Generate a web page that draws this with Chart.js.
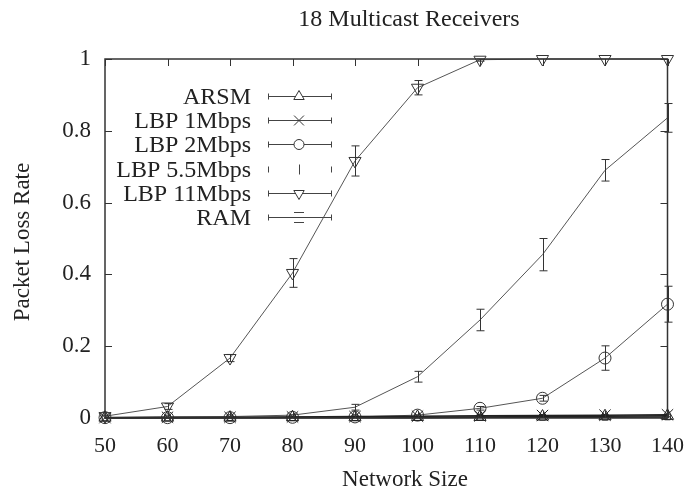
<!DOCTYPE html>
<html>
<head>
<meta charset="utf-8">
<title>18 Multicast Receivers</title>
<script src="https://cdn.jsdelivr.net/npm/chart.js@4.4.1/dist/chart.umd.min.js"></script>
<style>
  html, body { margin: 0; padding: 0; background: #fff; }
</style>
</head>
<body>
<canvas id="loss-chart" width="699" height="492"></canvas>
<script>
const networkSizes = [50, 60, 70, 80, 90, 100, 110, 120, 130, 140];
const xTickValues = [50, 60, 70, 80, 90, 100, 110, 120, 130, 140];
const yTickValues = [0, 0.2, 0.4, 0.6, 0.8, 1];

const chartTitle = "18 Multicast Receivers";
const xTitle = "Network Size";
const yTitle = "Packet Loss Rate";
const seriesNames = ["ARSM", "LBP 1Mbps", "LBP 2Mbps", "LBP 5.5Mbps", "LBP 11Mbps", "RAM"];

const arsmLoss = [0.001, 0.001, 0.001, 0.002, 0.002, 0.003, 0.003, 0.004, 0.005, 0.006];
const lbp1Loss = [0.001, 0.002, 0.002, 0.003, 0.004, 0.005, 0.006, 0.007, 0.008, 0.009];
const lbp2Loss = [0.001, 0.001, 0.001, 0.002, 0.003, 0.008, 0.027, 0.055, 0.167, 0.317];
const lbp2Err = [0, 0, 0, 0, 0, 0, 0.005, 0.008, 0.034, 0.05];
const lbp55Loss = [0.002, 0.003, 0.004, 0.008, 0.03, 0.115, 0.273, 0.455, 0.69, 0.836];
const lbp55Err = [0, 0, 0, 0, 0.008, 0.015, 0.03, 0.045, 0.03, 0.04];
const lbp11Loss = [0.005, 0.032, 0.167, 0.404, 0.716, 0.92, 0.998, 1, 1, 1];
const lbp11Err = [0, 0.008, 0.01, 0.04, 0.042, 0.02, 0.004, 0, 0, 0];
const ramLoss = [0.0, 0.0, 0.001, 0.001, 0.001, 0.001, 0.002, 0.002, 0.002, 0.003];

const fontFamily = '"Liberation Serif", "Times New Roman", serif';
const ink = "#222";

function toPoints(values) {
  return values.map((v, i) => ({ x: networkSizes[i], y: v }));
}

function makeSeries(label, values, style, extra) {
  return Object.assign({
    label: label,
    data: toPoints(values),
    showLine: true,
    borderColor: "#555",
    borderWidth: 1,
    pointStyle: style,
    pointRadius: 6,
    pointBorderColor: "#333",
    pointBackgroundColor: "rgba(0,0,0,0)",
    pointBorderWidth: 1,
    tension: 0,
    clip: false,
  }, extra || {});
}

const datasets = [
  makeSeries(seriesNames[0], arsmLoss, "triangle", { pointRadius: 7, borderColor: "#222", borderWidth: 1.5, pointBorderColor: "#222" }),
  makeSeries(seriesNames[1], lbp1Loss, "crossRot", { pointRadius: 8, borderColor: "#222", borderWidth: 1.5, pointBorderColor: "#222" }),
  makeSeries(seriesNames[2], lbp2Loss, "circle", { errorBars: lbp2Err }),
  makeSeries(seriesNames[3], lbp55Loss, "line", { pointRadius: 0, errorBars: lbp55Err }),
  makeSeries(seriesNames[4], lbp11Loss, "triangle", { pointRadius: 7, pointRotation: 180, errorBars: lbp11Err }),
  makeSeries(seriesNames[5], ramLoss, "rect", { pointRadius: 4, borderColor: "#222", borderWidth: 1.5, pointBorderColor: "#222" }),
];

// frame, inward ticks, error bars, titles and the in-plot key, gnuplot style
const gnuplotLook = {
  id: "gnuplotLook",
  afterDatasetsDraw(chart) {
    const { ctx, scales: { x, y } } = chart;
    ctx.save();
    ctx.strokeStyle = "#333";
    ctx.lineWidth = 1;
    chart.data.datasets.forEach(ds => {
      if (!ds.errorBars) return;
      ds.errorBars.forEach((err, i) => {
        if (!err) return;
        const px = Math.round(x.getPixelForValue(ds.data[i].x)) + 0.5;
        const top = y.getPixelForValue(Math.min(1, ds.data[i].y + err));
        const bottom = y.getPixelForValue(ds.data[i].y - err);
        ctx.beginPath();
        ctx.moveTo(px, top);
        ctx.lineTo(px, bottom);
        ctx.moveTo(px - 4, top);
        ctx.lineTo(px + 4, top);
        ctx.moveTo(px - 4, bottom);
        ctx.lineTo(px + 4, bottom);
        ctx.stroke();
      });
    });
    ctx.restore();
  },
  afterDraw(chart) {
    const { ctx, chartArea: a, scales: { x, y } } = chart;
    ctx.save();
    ctx.strokeStyle = "#333";
    ctx.lineWidth = 1.5;
    ctx.strokeRect(a.left, a.top, a.right - a.left, a.bottom - a.top);

    ctx.lineWidth = 1;
    ctx.beginPath();
    xTickValues.forEach(v => {
      const px = Math.round(x.getPixelForValue(v)) + 0.5;
      ctx.moveTo(px, a.bottom);
      ctx.lineTo(px, a.bottom - 7);
      ctx.moveTo(px, a.top);
      ctx.lineTo(px, a.top + 7);
    });
    yTickValues.forEach(v => {
      const py = Math.round(y.getPixelForValue(v)) + 0.5;
      ctx.moveTo(a.left, py);
      ctx.lineTo(a.left + 7, py);
      ctx.moveTo(a.right, py);
      ctx.lineTo(a.right - 7, py);
    });
    ctx.stroke();

    // titles (gnuplot puts them a bit right of the plot centre)
    ctx.fillStyle = ink;
    ctx.textAlign = "center";
    ctx.textBaseline = "middle";
    ctx.font = "24px " + fontFamily;
    ctx.fillText(chartTitle, 409, 20);
    ctx.font = "23px " + fontFamily;
    ctx.fillText(xTitle, 405, 480);
    ctx.save();
    ctx.translate(23, 242);
    ctx.rotate(-Math.PI / 2);
    ctx.fillText(yTitle, 0, 0);
    ctx.restore();

    // key
    const textRight = 251;
    const sampleLeft = 268;
    const sampleRight = 332;
    const sampleMid = 299;
    const rowTop = 96;
    const rowGap = 24.2;
    ctx.font = "24px " + fontFamily;
    ctx.textAlign = "right";
    ctx.textBaseline = "middle";
    chart.data.datasets.forEach((ds, i) => {
      const ry = Math.round(rowTop + i * rowGap) + 0.5;
      ctx.fillStyle = ink;
      ctx.fillText(ds.label, textRight, ry + 1);
      ctx.strokeStyle = "#444";
      ctx.lineWidth = 1;
      ctx.beginPath();
      if (ds.label !== "LBP 5.5Mbps") {
        ctx.moveTo(sampleLeft, ry);
        ctx.lineTo(sampleRight, ry);
      }
      ctx.moveTo(sampleLeft + 0.5, ry - 3);
      ctx.lineTo(sampleLeft + 0.5, ry + 3);
      ctx.moveTo(sampleRight - 0.5, ry - 3);
      ctx.lineTo(sampleRight - 0.5, ry + 3);
      if (ds.label === "LBP 5.5Mbps") {
        ctx.moveTo(sampleMid + 0.5, ry - 5);
        ctx.lineTo(sampleMid + 0.5, ry + 5);
      }
      if (ds.label === "RAM") {
        ctx.moveTo(sampleMid - 5, ry - 5);
        ctx.lineTo(sampleMid + 5, ry - 5);
        ctx.moveTo(sampleMid - 5, ry + 5);
        ctx.lineTo(sampleMid + 5, ry + 5);
      }
      ctx.stroke();
      if (ds.pointRadius > 0 && ds.label !== "RAM") {
        ctx.strokeStyle = "#333";
        ctx.fillStyle = "#fff";
        Chart.helpers.drawPoint(ctx, {
          pointStyle: ds.pointStyle,
          radius: ds.pointRadius - 1,
          rotation: ds.pointRotation || 0,
          borderWidth: 1,
        }, sampleMid, ry);
      }
    });
    ctx.restore();
  },
};

new Chart(document.getElementById("loss-chart"), {
  type: "scatter",
  data: { datasets: datasets },
  plugins: [gnuplotLook],
  options: {
    responsive: false,
    animation: false,
    events: [],
    layout: { padding: { left: 0, right: 17, top: 59, bottom: 0 } },
    plugins: {
      legend: { display: false },
      tooltip: { enabled: false },
    },
    scales: {
      x: {
        type: "linear",
        min: 50,
        max: 140,
        afterBuildTicks: s => { s.ticks = xTickValues.map(v => ({ value: v })); },
        afterFit: s => { s.height = 74; },
        grid: { display: false, drawTicks: false },
        border: { display: false },
        ticks: { color: ink, padding: 15, font: { family: fontFamily, size: 22 }, maxRotation: 0 },
      },
      y: {
        type: "linear",
        min: 0,
        max: 1,
        afterBuildTicks: s => { s.ticks = yTickValues.map(v => ({ value: v })); },
        afterFit: s => { s.width = 105; },
        grid: { display: false, drawTicks: false },
        border: { display: false },
        ticks: {
          color: ink,
          padding: 14,
          font: { family: fontFamily, size: 23 },
          callback: v => String(v),
        },
      },
    },
  },
});
</script>
</body>
</html>
